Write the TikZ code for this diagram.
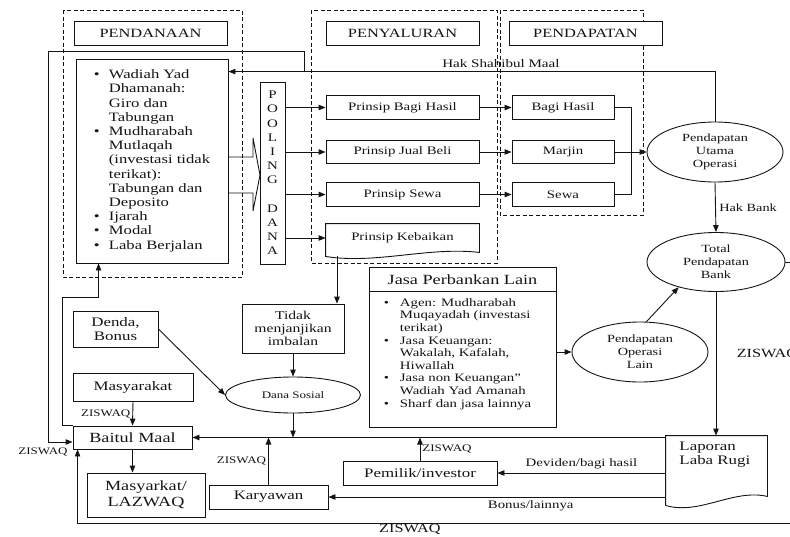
\documentclass[tikz,border=0pt]{standalone}
\usepackage{fontspec}
\setmainfont{Liberation Serif}[FakeStretch=1.3]
\usetikzlibrary{arrows.meta, shapes, positioning, calc}
\newcommand\fs[2]{\fontsize{#1}{#2}\selectfont}
\newcommand\bul[1]{\makebox[#1][l]{\textbullet}}
\tikzset{
  >={Triangle[length=7pt,width=5.5pt]},
  region/.style = {draw, dash pattern=on 4pt off 2.5pt, line width=0.8pt},
  head/.style = {draw, fill=white, minimum width=153pt, minimum height=24pt, inner sep=0pt, font=\fs{12.6}{14}},
  pbox/.style = {draw, minimum height=23.5pt, inner sep=0pt, font=\fs{11.4}{13}},
  nbox/.style = {draw, inner sep=0pt, align=center, font=\fs{13}{14}},
  oval/.style = {draw, ellipse, inner sep=0pt, align=center, font=\fs{11}{13}},
  tag/.style = {font=\fs{10}{11}, inner sep=2pt}
}

\begin{document}
\begin{tikzpicture}[x=1pt, y=-1pt, line width=0.9pt, color=black!92]
  \useasboundingbox (0,0) rectangle (790,536);

  % Sections
  \draw[region] (63,10) rectangle (242,277);
  \draw[region] (311,10) rectangle (497,263);
  \draw[region] (500,10) rectangle (643,215);
  \node[head] (hDana) at (150.5,33) {PENDANAAN};
  \node[head] (hSalur) at (402.5,33) {PENYALURAN};
  \node[head] (hDapat) at (585.5,33) {PENDAPATAN};

  % Pendanaan
  \node[draw, minimum width=152pt, minimum height=204pt, inner sep=0pt, font=\fs{12.8}{14.2}] (dana) at (152,161) {%
    \begin{tabular}{@{}l@{}l@{}}
      \bul{15pt} & Wadiah Yad\\
       & Dhamanah:\\
       & Giro dan\\
       & Tabungan\\
      \bul{15pt} & Mudharabah\\
       & Mutlaqah\\
       & (investasi tidak\\
       & terikat):\\
       & Tabungan dan\\
       & Deposito\\
      \bul{15pt} & Ijarah\\
      \bul{15pt} & Modal\\
      \bul{15pt} & Laba Berjalan
    \end{tabular}};
  \draw (228,157) -- (253,157) -- (253,138) -- (260,175) -- (253,211) -- (253,193) -- (228,193);

  % Pooling dana
  \node[draw, minimum width=25pt, minimum height=182pt, inner sep=0pt, align=center, font=\fs{11.5}{14.2}] (pool) at (272.5,173)
    {P\\O\\O\\L\\I\\N\\G\\~\\D\\A\\N\\A};

  % Penyaluran
  \node[pbox, minimum width=153pt] (pBagi) at (402.5,107.5) {Prinsip Bagi Hasil};
  \node[pbox, minimum width=153pt] (pJual) at (402.5,152) {Prinsip Jual Beli};
  \node[pbox, minimum width=153pt] (pSewa) at (402.5,194.5) {Prinsip Sewa};
  \node[minimum width=153pt, minimum height=28pt, inner sep=0pt, font=\fs{11.4}{13}] (pKeb) at (402.5,238) {Prinsip Kebaikan};
  \draw (pKeb.south west) -- (pKeb.north west) -- (pKeb.north east) -- (pKeb.south east)
    .. controls +(-50,-6) and +(50,8) .. ($(pKeb.south west)+(0,4)$) -- cycle;
  \foreach \p in {pBagi,pJual,pSewa,pKeb}
    \draw[->] (pool.east |- \p.west) -- (\p.west);

  % Pendapatan
  \node[pbox, minimum width=102pt] (rBagi) at (563,107.5) {Bagi Hasil};
  \node[pbox, minimum width=102pt] (rMarjin) at (563,152) {Marjin};
  \node[pbox, minimum width=102pt] (rSewa) at (563,194.5) {Sewa};
  \foreach \a/\b in {pBagi/rBagi, pJual/rMarjin, pSewa/rSewa}
    \draw[->] (\a.east) -- (\b.west);

  % Ovals
  \node[oval, minimum width=136pt, minimum height=60pt] (eUtama) at (715,152) {Pendapatan\\Utama\\Operasi};
  \node[oval, minimum width=138pt, minimum height=59pt] (eTotal) at (716,262) {Total\\Pendapatan\\Bank};
  \node[oval, minimum width=136pt, minimum height=60pt] (eLain) at (640,352) {Pendapatan\\Operasi\\Lain};
  \node[oval, minimum width=135pt, minimum height=36pt, font=\fs{10}{11}] (eSosial) at (293,395) {Dana Sosial};

  \draw (rBagi.east) -- ++(17,0) |- (rSewa.east);
  \draw[->] (rMarjin.east) -- (eUtama.west);
  \draw[->] (eUtama.south) -- (eTotal.north) node[midway, right, font=\fs{11}{12}] {Hak Bank};
  \draw[->] (eLain.78) -- (eTotal.214);

  % Hak Shahibul Maal
  \coordinate (hakSplit) at (304,72);
  \coordinate (leftTop) at (48,51);
  \draw[->] (eUtama.north) |- ($(dana.north east)+(0,13)$)
    node[pos=.72, above, font=\fs{11.6}{13}] {Hak Shahibul Maal};

  % Jasa perbankan lain
  \node[draw, minimum width=187pt, minimum height=160pt, inner sep=0pt] (jasa) at (462.5,347) {};
  \node[font=\fs{14}{15}] (jasaT) at (462.5,279.5) {Jasa Perbankan Lain};
  \draw ($(jasa.north west)+(0,25)$) -- ($(jasa.north east)+(0,25)$);
  \node[anchor=north west, inner sep=0pt, font=\fs{11.4}{12.6}] (jasaL) at (383.5,297) {%
    \begin{tabular}{@{}l@{}l@{}}
      \bul{16pt} & Agen: Mudharabah\\
       & Muqayadah (investasi\\
       & terikat)\\
      \bul{16pt} & Jasa Keuangan:\\
       & Wakalah, Kafalah,\\
       & Hiwallah\\
      \bul{16pt} & Jasa non Keuangan"\\
       & Wadiah Yad Amanah\\
      \bul{16pt} & Sharf dan jasa lainnya
    \end{tabular}};
  \draw[->] (jasa.east |- eLain.west) -- (eLain.west);

  % Dana sosial
  \node[nbox, minimum width=102pt, minimum height=49pt, font=\fs{12}{13}] (tidak) at (293,328.5) {Tidak\\menjanjikan\\imbalan};
  \node[nbox, minimum width=85pt, minimum height=36pt] (denda) at (115.5,329) {Denda,\\Bonus};
  \coordinate (kebOut) at (337,256);
  \draw[->] (kebOut) -- (kebOut |- tidak.north);
  \draw[->] (tidak.south) -- (eSosial.north);
  \draw[->] (denda.east) -- (eSosial.west);

  % Baitul maal
  \node[nbox, minimum width=120pt, minimum height=28pt] (masy) at (133,387) {Masyarakat};
  \node[nbox, minimum width=119pt, minimum height=23pt, font=\fs{14}{15}] (baitul) at (132.5,437.5) {Baitul Maal};
  \node[nbox, minimum width=118pt, minimum height=44pt, font=\fs{14}{16}] (lazwaq) at (146,495) {Masyarkat/\\LAZWAQ};
  \node[nbox, minimum width=119pt, minimum height=24pt] (karyawan) at (268.5,497) {Karyawan};
  \node[nbox, minimum width=154pt, minimum height=24pt] (pemilik) at (420,473) {Pemilik/investor};

  % Laporan laba rugi
  \node[minimum width=101pt, minimum height=60pt, inner sep=0pt] (lap) at (716.5,466) {};
  \draw ($(lap.south west)+(0,9)$) -- (lap.north west) -- (lap.north east) -- (lap.south east)
    .. controls +(-34,-8) and +(34,10) .. ($(lap.south west)+(0,9)$);
  \node[anchor=north west, inner sep=0pt, align=left, font=\fs{13}{13.5}] (lapT) at (679,442) {Laporan\\Laba Rugi};

  \draw[->] (eTotal.south) -- (eTotal.south |- lap.north);
  \draw[->] (lap.west |- baitul.east) -- (baitul.east);
  \draw[->] (lap.west |- pemilik.east) -- (pemilik.east)
    node[midway, above, font=\fs{11.4}{12}] {Deviden/bagi hasil};
  \draw[->] (lap.west |- karyawan.east) -- (karyawan.east)
    node[pos=.4, below, font=\fs{11.4}{12}] {Bonus/lainnya};
  \draw[->] (eSosial.south) -- (eSosial.south |- baitul.east);
  \draw[->] (pemilik.north) -- (pemilik.north |- baitul.east) node[midway, right, tag] {ZISWAQ};
  \draw[->] (karyawan.north) -- (karyawan.north |- baitul.east) node[midway, left, tag] {ZISWAQ};
  \draw[->] (masy.south) -- (baitul.north) node[midway, left, tag] {ZISWAQ};
  \draw[->] (baitul.south) -- (baitul.south |- lazwaq.north);

  % ZISWAQ loops
  \draw[->] (hakSplit) |- (leftTop) |- ($(baitul.west)+(0,4.5)$);
  \node[tag] (zLeft) at (43,452) {ZISWAQ};
  \draw[->] (baitul.north west) -- ++(-10,0) |- ($(dana.south west)+(23,34)$) -- ($(dana.south west)+(23,0)$);
  \coordinate (rEdge) at (800,262);
  \coordinate (bEdge) at (800,523);
  \draw (eTotal.east) -- (rEdge);
  \node[anchor=west, font=\fs{12.5}{13}] (zRight) at (733,354) {ZISWAQ};
  \draw[->] (bEdge) -| ($(baitul.south west)+(5,0)$)
    node[pos=.27, below, font=\fs{12.5}{13}, inner sep=1pt] {ZISWAQ};

\end{tikzpicture}
\end{document}
